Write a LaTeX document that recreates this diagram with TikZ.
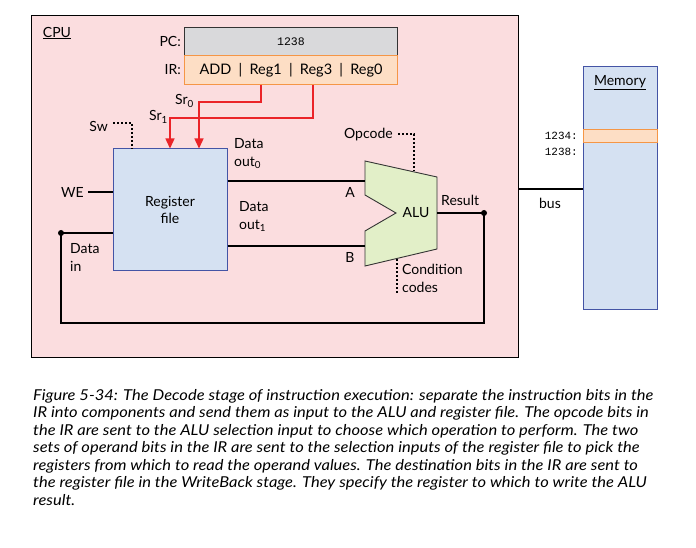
\documentclass[tikz,border=0pt]{standalone}
\usepackage{fontspec}
\setmainfont{Lato}
\newfontfamily\capfont[FakeStretch=1.1]{Lato}
\newfontfamily\monofont{Liberation Mono}
\usetikzlibrary{arrows.meta,calc}
\definecolor{cpubg}{RGB}{251,221,223}
\definecolor{regfill}{RGB}{213,225,242}
\definecolor{regdraw}{RGB}{68,84,165}
\definecolor{alufill}{RGB}{226,239,200}
\definecolor{pcfill}{RGB}{217,217,219}
\definecolor{irfill}{RGB}{253,222,197}
\definecolor{irdraw}{RGB}{245,150,70}
\definecolor{redwire}{RGB}{235,35,40}
\tikzset{
  box/.style={draw, anchor=north west, inner sep=0pt},
  wire/.style={draw=black, line width=1.2pt},
  ctrl/.style={draw=black, line width=1.3pt, dash pattern=on 2pt off 2pt},
  sel/.style={draw=redwire, line width=1.3pt, -{Triangle[length=10pt,width=9pt]}},
  lbl/.style={inner sep=0pt, font=\fontsize{14}{17}\selectfont},
  mlbl/.style={inner sep=0pt, align=left, font=\fontsize{14}{18}\selectfont},
  mono/.style={inner sep=0pt, font=\monofont\fontsize{11}{13}\selectfont},
  capline/.style={inner sep=0pt, anchor=base west, font=\capfont\itshape\fontsize{15}{17}\selectfont},
  dot/.style={circle, fill=black, inner sep=0pt, minimum size=6pt}
}
\begin{document}
\begin{tikzpicture}[x=1pt,y=-1pt]
\useasboundingbox (0,0) rectangle (696,548);
\fill[white] (0,0) rectangle (696,548);
% CPU frame
\node[box, fill=cpubg, line width=1pt, minimum width=487pt, minimum height=342pt] (cpu) at (31,15) {};
\node[lbl] (cpulbl) at (57,33) {\underline{CPU}};
% PC and IR
\node[box, fill=pcfill, draw=black!80, line width=0.8pt, minimum width=213pt, minimum height=28pt] (pc) at (184,27) {};
\node[mono, font=\monofont\fontsize{11.5}{13}\selectfont] (pcval) at (pc.center) {1238};
\node[box, fill=irfill, draw=irdraw, line width=1pt, minimum width=213pt, minimum height=29pt] (ir) at (184,55) {};
\node[lbl, font=\fontsize{14.5}{17}\selectfont] (irval) at (ir.center) {ADD\enspace|\enspace Reg1\enspace|\enspace Reg3\enspace|\enspace Reg0};
\node[lbl, anchor=east] (pclbl) at (181,41) {PC:};
\node[lbl, anchor=east] (irlbl) at (181,70) {IR:};
% Register file
\node[draw=regdraw, fill=regfill, line width=1pt, minimum width=114pt, minimum height=121pt, align=center, font=\fontsize{14}{17}\selectfont] (rf) at (170,209.5) {Register\\file};
% selection wires
\draw[sel] (261,0 |- ir.south) |- (199,102) -- (199,0 |- rf.north);
\draw[sel] (313,0 |- ir.south) |- (170,118) -- (170,0 |- rf.north);
\node[lbl, anchor=east] (sr0) at (194,101) {Sr\textsubscript{0}};
\node[lbl, anchor=east] (sr1) at (168,117) {Sr\textsubscript{1}};
% Sw
\node[lbl, anchor=east] (sw) at (108,126) {Sw};
\draw[ctrl] (113,123) -- (132,123) -- (132,0 |- rf.north);
% WE
\node[lbl, anchor=east] (we) at (84,192) {WE};
\draw[wire] (we.east) ++(4,0) coordinate (weS) -- (rf.west |- weS);
% Data in
\node[dot] (din) at (61,233) {};
\draw[wire] (din.center) -- (rf.west |- din.center);
\node[mlbl, anchor=north west] (dinlbl) at (70,243) {Data\\in};
% ALU
\coordinate (aluTL) at (365,161);
\coordinate (aluTR) at (437,177);
\coordinate (aluBR) at (437,249);
\coordinate (aluBL) at (365,266);
\coordinate (aluNB) at (365,231);
\coordinate (aluNT) at (365,195);
\coordinate (aluNotch) at (396,213);
\draw[fill=alufill, draw=black!80, line width=0.9pt] (aluTL) -- (aluTR) -- (aluBR) -- (aluBL) -- (aluNB) -- (aluNotch) -- (aluNT) -- cycle;
\node[lbl] (alu) at (416,213) {ALU};
\coordinate (aluA) at (365,181);
\coordinate (aluB) at (365,246);
\coordinate (aluOut) at (437,213);
% data outs
\draw[wire] (rf.east |- aluA) -- (aluA);
\draw[wire] (rf.east |- aluB) -- (aluB);
\node[mlbl, anchor=north west] (do0) at (234,138) {Data\\out\textsubscript{0}};
\node[mlbl, anchor=north west] (do1) at (239,201) {Data\\out\textsubscript{1}};
\node[lbl] (alab) at (350,192) {A};
\node[lbl] (blab) at (350,257) {B};
% result
\node[dot] (res) at (484,213) {};
\draw[wire] (aluOut) -- (res.center);
\draw[wire] (res.center) -- (484,323) -| (din.center);
\node[lbl, anchor=west] (reslbl) at (441,200) {Result};
% opcode
\node[lbl, anchor=east] (opc) at (393,135) {Opcode};
\draw[ctrl] (398,134) -- (414,134) -- (414,171);
% condition codes
\draw[ctrl] (397,259) -- (397,293);
\node[mlbl, anchor=north west] (cc) at (402,264) {Condition\\codes};
% memory
\node[box, fill=regfill, draw=regdraw, line width=1pt, minimum width=74pt, minimum height=243pt] (mem) at (583,66) {};
\node[box, fill=irfill, draw=irdraw, line width=1pt, minimum width=74pt, minimum height=13pt] (row) at (583,129) {};
\node[lbl] (memlbl) at (620,83) {\underline{Memory}};
\node[mono, anchor=east] (a1234) at (578,136) {1234:};
\node[mono, anchor=east] (a1238) at (578,152) {1238:};
% bus
\draw[wire] (cpu.east |- 0,189) -- (mem.west |- 0,189);
\node[lbl] (bus) at (550,203) {bus};
% caption
\node[capline] (c1) at (33,400) {Figure 5-34: The Decode stage of instruction execution: separate the instruction bits in the};
\node[capline] (c2) at (33,417.5) {IR into components and send them as input to the ALU and register file. The opcode bits in};
\node[capline] (c3) at (33,435) {the IR are sent to the ALU selection input to choose which operation to perform. The two};
\node[capline] (c4) at (33,452.5) {sets of operand bits in the IR are sent to the selection inputs of the register file to pick the};
\node[capline] (c5) at (33,470) {registers from which to read the operand values. The destination bits in the IR are sent to};
\node[capline] (c6) at (33,487.5) {the register file in the WriteBack stage. They specify the register to which to write the ALU};
\node[capline] (c7) at (33,505) {result.};
\end{tikzpicture}
\end{document}
